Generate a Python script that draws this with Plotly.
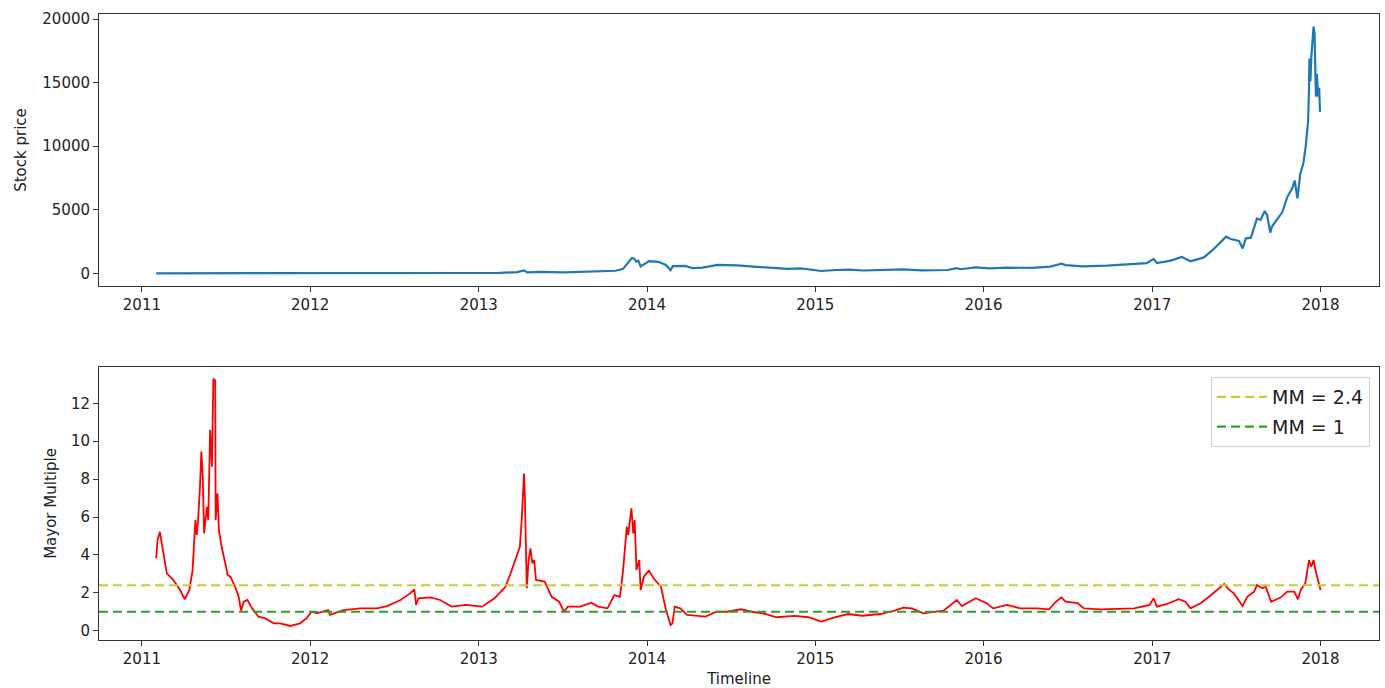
import plotly.graph_objs as go

# bitcoin close price (USD)
price_dates = [
    '2011-02-01', '2011-04-01', '2011-06-08', '2011-07-15', '2011-09-01', '2011-11-18',
    '2012-01-08', '2012-04-01', '2012-06-15', '2012-08-16', '2012-08-19', '2012-10-15', '2012-12-31',
    '2013-02-15', '2013-03-25', '2013-04-09', '2013-04-16', '2013-05-15', '2013-07-05', '2013-09-01',
    '2013-10-25', '2013-11-10', '2013-11-18', '2013-11-21', '2013-11-29', '2013-12-04', '2013-12-09',
    '2013-12-13', '2013-12-18', '2013-12-24',
    '2014-01-05', '2014-01-25', '2014-02-10', '2014-02-21', '2014-02-26', '2014-03-25', '2014-04-10',
    '2014-05-01', '2014-06-03', '2014-07-15', '2014-08-20', '2014-09-25', '2014-11-01', '2014-12-01',
    '2015-01-14', '2015-02-15', '2015-03-15', '2015-04-15', '2015-05-20', '2015-07-11', '2015-08-20',
    '2015-10-15', '2015-11-04', '2015-11-12', '2015-12-15',
    '2016-01-15', '2016-02-20', '2016-04-15', '2016-05-25', '2016-06-18', '2016-06-27', '2016-08-03',
    '2016-09-25', '2016-11-15', '2016-12-20',
    '2017-01-04', '2017-01-11', '2017-02-10', '2017-03-06', '2017-03-25', '2017-04-23', '2017-05-11',
    '2017-05-25', '2017-06-10', '2017-06-20', '2017-07-08', '2017-07-16', '2017-07-23', '2017-08-03',
    '2017-08-16', '2017-08-24', '2017-09-02', '2017-09-07', '2017-09-14', '2017-09-18', '2017-09-28',
    '2017-10-10', '2017-10-21', '2017-11-01', '2017-11-06', '2017-11-12', '2017-11-18', '2017-11-25',
    '2017-11-30', '2017-12-05', '2017-12-07', '2017-12-08', '2017-12-10', '2017-12-12', '2017-12-17',
    '2017-12-19', '2017-12-22', '2017-12-24', '2017-12-27', '2017-12-29', '2017-12-31',
]
price_values = [
    1.0, 0.8, 29, 14, 8, 2.3,
    7, 5, 6.5, 13, 8, 12, 13.5,
    27, 90, 230, 70, 115, 70, 130,
    200, 350, 700, 850, 1200, 1150, 900,
    1000, 550, 680,
    950, 900, 680, 250, 560, 580, 400,
    450, 660, 620, 510, 410, 340, 380,
    180, 260, 290, 220, 240, 310, 230,
    260, 410, 320, 460,
    380, 440, 425, 530, 760, 640, 550,
    600, 710, 800,
    1130, 800, 1000, 1280, 940, 1250, 1800,
    2300, 2880, 2700, 2550, 1950, 2750, 2800,
    4300, 4200, 4900, 4600, 3200, 3700, 4200,
    4800, 6000, 6700, 7300, 5900, 7800, 8700,
    10000, 11900, 14400, 16900, 15100, 17000, 19400,
    18900, 13900, 15700, 13900, 14600, 12700,
]

# Mayer multiple (price / 200 day moving average), lower panel
mm_dates = [
    '2011-02-01', '2011-02-04', '2011-02-09', '2011-02-13', '2011-02-20', '2011-02-24', '2011-03-10',
    '2011-03-25', '2011-04-04', '2011-04-14', '2011-04-21', '2011-04-27', '2011-04-30', '2011-05-03',
    '2011-05-07', '2011-05-10', '2011-05-13', '2011-05-16', '2011-05-22', '2011-05-25', '2011-05-29',
    '2011-06-02', '2011-06-05', '2011-06-09', '2011-06-10', '2011-06-14', '2011-06-17', '2011-06-23',
    '2011-07-01', '2011-07-06', '2011-07-12', '2011-07-22', '2011-07-30', '2011-08-04', '2011-08-10',
    '2011-08-18', '2011-08-28', '2011-09-11', '2011-09-26', '2011-10-14', '2011-10-28', '2011-11-19',
    '2011-12-10', '2011-12-24',
    '2012-01-04', '2012-01-15', '2012-02-09', '2012-02-13', '2012-03-13', '2012-04-18', '2012-05-25',
    '2012-06-16', '2012-07-15', '2012-08-05', '2012-08-14', '2012-08-18', '2012-08-23', '2012-09-18',
    '2012-10-09', '2012-11-03', '2012-12-04',
    '2013-01-08', '2013-02-04', '2013-02-28', '2013-03-11', '2013-03-23', '2013-03-31', '2013-04-04',
    '2013-04-09', '2013-04-11', '2013-04-15', '2013-04-19', '2013-04-23', '2013-04-27', '2013-05-01',
    '2013-05-05', '2013-05-24', '2013-06-08', '2013-06-24', '2013-07-05', '2013-07-13', '2013-08-09',
    '2013-09-02', '2013-09-17', '2013-10-07', '2013-10-22', '2013-11-03', '2013-11-10', '2013-11-18',
    '2013-11-21', '2013-11-28', '2013-12-02', '2013-12-05', '2013-12-09', '2013-12-15', '2013-12-18',
    '2013-12-25',
    '2014-01-05', '2014-01-15', '2014-01-31', '2014-02-11', '2014-02-21', '2014-02-25', '2014-03-02',
    '2014-03-14', '2014-03-29', '2014-04-14', '2014-05-08', '2014-05-31', '2014-06-23', '2014-07-24',
    '2014-08-16', '2014-09-16', '2014-10-09', '2014-11-17', '2014-12-17',
    '2015-01-14', '2015-02-10', '2015-03-13', '2015-04-13', '2015-05-22', '2015-06-22', '2015-07-11',
    '2015-07-30', '2015-08-23', '2015-10-06', '2015-11-04', '2015-11-15', '2015-12-15',
    '2016-01-08', '2016-01-22', '2016-02-21', '2016-03-21', '2016-04-27', '2016-05-22', '2016-06-06',
    '2016-06-18', '2016-06-27', '2016-07-23', '2016-08-06', '2016-09-11', '2016-10-17', '2016-11-23',
    '2016-12-26',
    '2017-01-04', '2017-01-11', '2017-02-02', '2017-02-27', '2017-03-14', '2017-03-25', '2017-04-16',
    '2017-05-04', '2017-05-22', '2017-06-06', '2017-06-16', '2017-06-27', '2017-07-16', '2017-07-26',
    '2017-08-10', '2017-08-16', '2017-08-28', '2017-09-04', '2017-09-16', '2017-10-07', '2017-10-21',
    '2017-11-05', '2017-11-13', '2017-11-19', '2017-11-29', '2017-12-07', '2017-12-12', '2017-12-17',
    '2017-12-21', '2017-12-28', '2018-01-01',
]
mm_values = [
    3.82, 4.79, 5.22, 4.6, 3.55, 3.03, 2.68,
    2.15, 1.66, 2.15, 3.2, 5.84, 5.05, 5.84,
    7.6, 9.45, 8.1, 5.14, 6.54, 5.84, 10.6,
    8.65, 13.3, 13.2, 5.84, 7.25, 5.31, 4.43,
    3.55, 2.94, 2.85, 2.32, 1.79, 1.06, 1.53,
    1.62, 1.18, 0.74, 0.65, 0.39, 0.39, 0.25,
    0.39, 0.65,
    1.0, 0.92, 1.09, 0.83, 1.09, 1.18, 1.18,
    1.3, 1.62, 1.97, 2.18, 1.36, 1.71, 1.76,
    1.62, 1.27, 1.36,
    1.27, 1.71, 2.32, 3.03, 3.9, 4.43, 5.84,
    8.3, 6.9, 2.24, 3.73, 4.35, 3.56, 3.73,
    2.68, 2.59, 1.79, 1.53, 1.0, 1.27, 1.27,
    1.48, 1.27, 1.18, 1.88, 1.79, 3.2, 5.49,
    5.05, 6.46, 5.14, 5.84, 3.2, 3.73, 2.15,
    2.85,
    3.17, 2.77, 2.32, 1.09, 0.3, 0.39, 1.27,
    1.18, 0.83, 0.78, 0.74, 1.0, 1.0, 1.13,
    1.0, 0.88, 0.71, 0.78, 0.71,
    0.48, 0.69, 0.88, 0.79, 0.88, 1.06, 1.22,
    1.18, 0.92, 1.06, 1.62, 1.3, 1.71,
    1.45, 1.18, 1.36, 1.18, 1.18, 1.13, 1.53,
    1.76, 1.53, 1.45, 1.18, 1.13, 1.15, 1.18,
    1.36,
    1.71, 1.27, 1.41, 1.66, 1.53, 1.18, 1.45,
    1.79, 2.18, 2.46, 2.18, 1.97, 1.3, 1.79,
    2.06, 2.41, 2.24, 2.32, 1.53, 1.76, 2.06,
    2.06, 1.66, 2.15, 2.5, 3.73, 3.38, 3.73,
    3.2, 2.59, 2.15,
]

mm_levels = [2.4, 1]
mm_level_names = ['MM = 2.4', 'MM = 1']
mm_level_colors = ['#c9c93a', '#2ca02c']

FONT = 'DejaVu Sans'
TEXT = '#222222'
x_range = ['2010-09-30', '2018-05-08']

fig = go.Figure()

fig.add_trace(go.Scatter(
    x=price_dates, y=price_values, mode='lines',
    line=dict(color='#1f77b4', width=2.2),
    xaxis='x', yaxis='y', showlegend=False
))
fig.add_trace(go.Scatter(
    x=mm_dates, y=mm_values, mode='lines',
    line=dict(color='#ff0000', width=1.8),
    xaxis='x2', yaxis='y2', showlegend=False
))

for level, name, color in zip(mm_levels, mm_level_names, mm_level_colors):
    fig.add_shape(
        type='line', xref='x2 domain', yref='y2',
        x0=0, x1=1, y0=level, y1=level,
        line=dict(color=color, width=2.2, dash='9px,5px'),
        showlegend=True, name=name, legendgroup=name
    )

axis_style = dict(
    showline=True, linecolor='#333333', linewidth=1, mirror=True,
    ticks='outside', ticklen=5, tickcolor='#333333',
    showgrid=False, zeroline=False, automargin=False,
    tickfont=dict(family=FONT, size=15, color=TEXT),
)
title_font = dict(family=FONT, size=15, color=TEXT)

fig.update_layout(
    width=1385, height=688,
    margin=dict(l=0, r=0, t=0, b=0),
    paper_bgcolor='white', plot_bgcolor='white',
    font=dict(family=FONT, size=15, color=TEXT),
    xaxis=dict(domain=[0.0715, 0.9957], anchor='y', type='date', range=x_range,
               dtick='M12', tickformat='%Y', **axis_style),
    yaxis=dict(domain=[0.5843, 0.9797], anchor='x', range=[-1000, 20400], dtick=5000,
               tickformat='d',
               title=dict(text='Stock price', standoff=12, font=title_font),
               **axis_style),
    xaxis2=dict(domain=[0.0715, 0.9957], anchor='y2', type='date', range=x_range,
                dtick='M12', tickformat='%Y',
                title=dict(text='Timeline', standoff=8, font=title_font),
                **axis_style),
    yaxis2=dict(domain=[0.0698, 0.4666], anchor='x2', range=[-0.49, 13.92], dtick=2,
                title=dict(text='Mayor Multiple', standoff=10, font=title_font),
                **axis_style),
    legend=dict(x=0.9892, y=0.452, xanchor='right', yanchor='top',
                bgcolor='rgba(255,255,255,0.8)', bordercolor='#d0d0d0', borderwidth=1,
                font=dict(family=FONT, size=19, color=TEXT),
                tracegroupgap=2, itemwidth=50),
)

# the page body keeps a default 8px margin; drop it so the figure sits at the corner
fig.write_html('out.html', config={'displayModeBar': False},
               post_script="document.body.style.margin='0px';")
